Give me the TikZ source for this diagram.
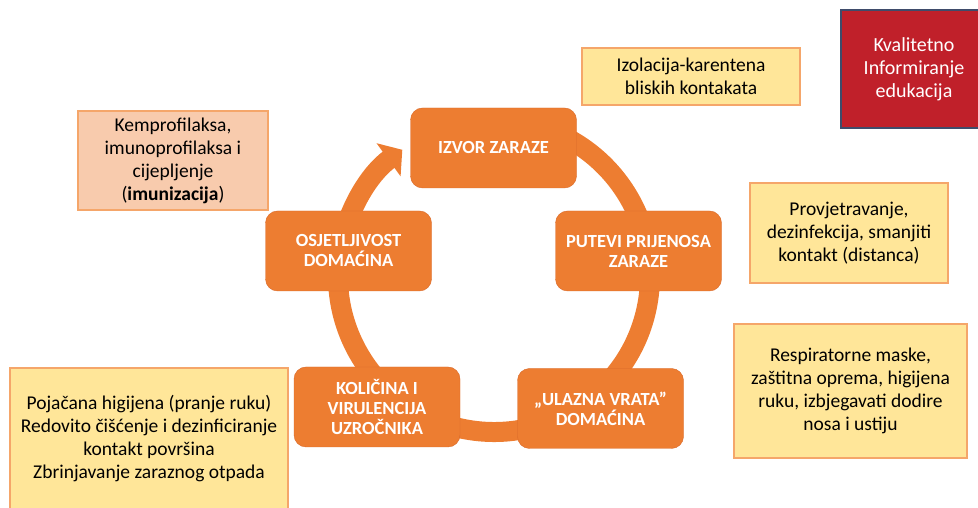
\documentclass[tikz,border=0pt]{standalone}
\usepackage{fontspec}
\setmainfont{Carlito}
\usetikzlibrary{arrows.meta}

\definecolor{cycleorange}{HTML}{ED7D31}
\definecolor{cycleedge}{HTML}{D9692A}
\definecolor{noteyellow}{HTML}{FFE699}
\definecolor{noteedge}{HTML}{F5A66A}
\definecolor{notepeach}{HTML}{F8CBAD}
\definecolor{infored}{HTML}{C0202A}
\definecolor{infoedge}{HTML}{3F4C6B}

\tikzset{
  stage/.style={draw=cycleedge, fill=cycleorange, rounded corners=12pt,
    minimum width=166pt, minimum height=80pt, inner sep=0pt, align=center,
    text=white, font=\fontsize{18.5}{20}\selectfont\bfseries},
  note/.style={draw=noteedge, line width=1.5pt, fill=noteyellow,
    inner sep=0pt, align=center, font=\fontsize{19.5}{23}\selectfont}
}

\begin{document}
\begin{tikzpicture}[x=1pt, y=1pt]
\useasboundingbox (0,0) rectangle (978,508);
\clip (0,0) rectangle (978,508);

% ring of the cycle
\draw [line width=20pt, cycleorange, -{Triangle[length=17pt, width=40pt]}]
  (494,232) ++(80:156) arc [start angle=80, end angle=-234, radius=156];

% stages
\node [stage] (izvor) at (493.5,360) {IZVOR ZARAZE};
\node [stage] (putevi) at (638.5,257) {PUTEVI PRIJENOSA\\ZARAZE};
\node [stage] (ulaz) at (600.5,99.5) {„ULAZNA VRATA”\\DOMAĆINA};
\node [stage] (kolicina) at (377,101) {KOLIČINA I\\VIRULENCIJA\\UZROČNIKA};
\node [stage] (osjet) at (348.5,257) {OSJETLJIVOST\\DOMAĆINA};

% measures
\node [note, minimum width=218pt, minimum height=57pt] (izolacija) at (691,431.5)
  {Izolacija-karentena\\bliskih kontakata};
\node [note, minimum width=198pt, minimum height=100pt] (provjetravanje) at (849,275)
  {Provjetravanje,\\dezinfekcija, smanjiti\\kontakt (distanca)};
\node [note, minimum width=233pt, minimum height=134pt] (maske) at (850.5,117)
  {Respiratorne maske,\\zaštitna oprema, higijena\\ruku, izbjegavati dodire\\nosa i ustiju};
\node [note, fill=notepeach, minimum width=190pt, minimum height=99pt] (imunizacija) at (173,347.5)
  {Kemprofilaksa,\\imunoprofilaksa i\\cijepljenje\\(\textbf{imunizacija})};
\node [note, minimum width=278pt, minimum height=142pt] (higijena) at (149,69)
  {Pojačana higijena (pranje ruku)\\Redovito čišćenje i dezinficiranje\\kontakt površina\\Zbrinjavanje zaraznog otpada};

\node [draw=infoedge, line width=1.5pt, fill=infored, text=white, align=center,
  minimum width=146pt, minimum height=118pt, inner sep=0pt,
  font=\fontsize{20}{23}\selectfont] (edukacija) at (914,439)
  {Kvalitetno\\Informiranje\\edukacija};
\end{tikzpicture}
\end{document}
